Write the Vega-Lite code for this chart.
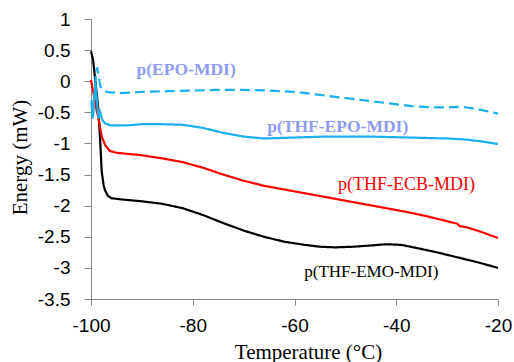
{
  "$schema": "https://vega.github.io/schema/vega-lite/v6.json",
  "width": 407,
  "height": 280,
  "autosize": {"type": "none"},
  "padding": {"left": 91, "top": 19, "right": 16, "bottom": 63},
  "background": "white",
  "config": {"view": {"stroke": null}, "axis": {"labelOverlap": false}},
  "datasets": {
    "curves": [
      {"s": "EMO", "t": -100, "e": 0.48}, {"s": "EMO", "t": -99.6, "e": 0.35}, {"s": "EMO", "t": -99.2, "e": 0.05},
      {"s": "EMO", "t": -98.6, "e": -0.41}, {"s": "EMO", "t": -98.2, "e": -0.95}, {"s": "EMO", "t": -97.9, "e": -1.45},
      {"s": "EMO", "t": -97.5, "e": -1.68}, {"s": "EMO", "t": -97.2, "e": -1.76}, {"s": "EMO", "t": -96.7, "e": -1.84},
      {"s": "EMO", "t": -96, "e": -1.88}, {"s": "EMO", "t": -94, "e": -1.9}, {"s": "EMO", "t": -90, "e": -1.93},
      {"s": "EMO", "t": -86, "e": -1.97}, {"s": "EMO", "t": -82, "e": -2.04}, {"s": "EMO", "t": -78, "e": -2.15},
      {"s": "EMO", "t": -74, "e": -2.28}, {"s": "EMO", "t": -70, "e": -2.4}, {"s": "EMO", "t": -66, "e": -2.5},
      {"s": "EMO", "t": -62, "e": -2.58}, {"s": "EMO", "t": -58, "e": -2.63}, {"s": "EMO", "t": -55, "e": -2.66},
      {"s": "EMO", "t": -52, "e": -2.67}, {"s": "EMO", "t": -48.5, "e": -2.66}, {"s": "EMO", "t": -45, "e": -2.64},
      {"s": "EMO", "t": -42, "e": -2.62}, {"s": "EMO", "t": -39, "e": -2.63}, {"s": "EMO", "t": -36, "e": -2.68},
      {"s": "EMO", "t": -32, "e": -2.75}, {"s": "EMO", "t": -28, "e": -2.83}, {"s": "EMO", "t": -24, "e": -2.91},
      {"s": "EMO", "t": -20, "e": -3.0},

      {"s": "ECB", "t": -100, "e": 0.02}, {"s": "ECB", "t": -99.5, "e": -0.2}, {"s": "ECB", "t": -98.9, "e": -0.46},
      {"s": "ECB", "t": -98.6, "e": -0.57}, {"s": "ECB", "t": -97.9, "e": -0.89}, {"s": "ECB", "t": -97.2, "e": -1.03},
      {"s": "ECB", "t": -96.3, "e": -1.12}, {"s": "ECB", "t": -95, "e": -1.15}, {"s": "ECB", "t": -90, "e": -1.19},
      {"s": "ECB", "t": -86, "e": -1.24}, {"s": "ECB", "t": -82, "e": -1.3}, {"s": "ECB", "t": -78, "e": -1.39},
      {"s": "ECB", "t": -74, "e": -1.5}, {"s": "ECB", "t": -70, "e": -1.6}, {"s": "ECB", "t": -66, "e": -1.68},
      {"s": "ECB", "t": -62, "e": -1.74}, {"s": "ECB", "t": -58, "e": -1.8}, {"s": "ECB", "t": -54, "e": -1.86},
      {"s": "ECB", "t": -50, "e": -1.92}, {"s": "ECB", "t": -46, "e": -1.98}, {"s": "ECB", "t": -42, "e": -2.04},
      {"s": "ECB", "t": -38, "e": -2.1}, {"s": "ECB", "t": -34, "e": -2.17}, {"s": "ECB", "t": -30, "e": -2.25},
      {"s": "ECB", "t": -28, "e": -2.29}, {"s": "ECB", "t": -27.5, "e": -2.33}, {"s": "ECB", "t": -26, "e": -2.35},
      {"s": "ECB", "t": -23, "e": -2.43}, {"s": "ECB", "t": -20, "e": -2.52},

      {"s": "THFEPO", "t": -99.9, "e": -0.35}, {"s": "THFEPO", "t": -99.7, "e": -0.6}, {"s": "THFEPO", "t": -99.4, "e": -0.3},
      {"s": "THFEPO", "t": -99.1, "e": -0.05}, {"s": "THFEPO", "t": -98.8, "e": -0.35}, {"s": "THFEPO", "t": -98.5, "e": -0.6},
      {"s": "THFEPO", "t": -98.2, "e": -0.5}, {"s": "THFEPO", "t": -97.8, "e": -0.62}, {"s": "THFEPO", "t": -97.2, "e": -0.68},
      {"s": "THFEPO", "t": -96, "e": -0.71}, {"s": "THFEPO", "t": -93, "e": -0.71}, {"s": "THFEPO", "t": -90, "e": -0.69},
      {"s": "THFEPO", "t": -86, "e": -0.69}, {"s": "THFEPO", "t": -82, "e": -0.7}, {"s": "THFEPO", "t": -78, "e": -0.75},
      {"s": "THFEPO", "t": -74, "e": -0.83}, {"s": "THFEPO", "t": -70, "e": -0.89}, {"s": "THFEPO", "t": -66, "e": -0.92},
      {"s": "THFEPO", "t": -62, "e": -0.91}, {"s": "THFEPO", "t": -58, "e": -0.9}, {"s": "THFEPO", "t": -54, "e": -0.89},
      {"s": "THFEPO", "t": -50, "e": -0.89}, {"s": "THFEPO", "t": -45, "e": -0.89}, {"s": "THFEPO", "t": -40, "e": -0.9},
      {"s": "THFEPO", "t": -35, "e": -0.91}, {"s": "THFEPO", "t": -30, "e": -0.92}, {"s": "THFEPO", "t": -26, "e": -0.94},
      {"s": "THFEPO", "t": -23, "e": -0.97}, {"s": "THFEPO", "t": -20, "e": -1.01},

      {"s": "EPO", "t": -99.9, "e": -0.3}, {"s": "EPO", "t": -99.6, "e": -0.55}, {"s": "EPO", "t": -99.3, "e": -0.2},
      {"s": "EPO", "t": -99.0, "e": 0.15}, {"s": "EPO", "t": -98.8, "e": 0.22}, {"s": "EPO", "t": -98.5, "e": 0.1},
      {"s": "EPO", "t": -98.2, "e": -0.08}, {"s": "EPO", "t": -97.6, "e": -0.15}, {"s": "EPO", "t": -96.5, "e": -0.18},
      {"s": "EPO", "t": -94, "e": -0.19}, {"s": "EPO", "t": -90, "e": -0.17}, {"s": "EPO", "t": -85, "e": -0.16},
      {"s": "EPO", "t": -80, "e": -0.15}, {"s": "EPO", "t": -75, "e": -0.14}, {"s": "EPO", "t": -70, "e": -0.14},
      {"s": "EPO", "t": -65, "e": -0.15}, {"s": "EPO", "t": -60, "e": -0.17}, {"s": "EPO", "t": -55, "e": -0.22},
      {"s": "EPO", "t": -50, "e": -0.27}, {"s": "EPO", "t": -45, "e": -0.32}, {"s": "EPO", "t": -41, "e": -0.36},
      {"s": "EPO", "t": -37, "e": -0.4}, {"s": "EPO", "t": -33, "e": -0.42}, {"s": "EPO", "t": -30, "e": -0.42},
      {"s": "EPO", "t": -27, "e": -0.41}, {"s": "EPO", "t": -24, "e": -0.45}, {"s": "EPO", "t": -20, "e": -0.52}
    ],
    "labels": [
      {"label": "p(EPO-MDI)", "t": -81.3, "e": 0.18},
      {"label": "p(THF-EPO-MDI)", "t": -51.5, "e": -0.74},
      {"label": "p(THF-ECB-MDI)", "t": -38.0, "e": -1.67},
      {"label": "p(THF-EMO-MDI)", "t": -44.9, "e": -3.07}
    ]
  },
  "layer": [
    {
      "data": {"name": "curves"},
      "mark": {"type": "line", "interpolate": "linear"},
      "encoding": {
        "x": {
          "field": "t", "type": "quantitative",
          "scale": {"domain": [-100, -20], "nice": false, "zero": false},
          "axis": {
            "values": [-100, -80, -60, -40, -20],
            "grid": false,
            "domainColor": "#888888", "tickColor": "#888888", "tickSize": 6,
            "labelFont": "Liberation Sans", "labelFontSize": 19, "labelColor": "#000000",
            "labelPadding": 11, "labelFlush": false, "labelOverlap": false,
            "labelExpr": "replace(format(datum.value, '~g'), '\u2212', '-')",
            "title": "Temperature (°C)",
            "titleFont": "Liberation Serif", "titleFontSize": 21, "titleFontWeight": "normal", "titleColor": "#000000",
            "titleX": 217, "titleY": 59, "titleBaseline": "alphabetic", "titleAlign": "center"
          }
        },
        "y": {
          "field": "e", "type": "quantitative",
          "scale": {"domain": [-3.5, 1], "nice": false, "zero": false},
          "axis": {
            "tickCount": 10,
            "grid": false,
            "domainColor": "#888888", "tickColor": "#888888", "tickSize": 7,
            "labelFont": "Liberation Sans", "labelFontSize": 19, "labelColor": "#000000",
            "labelPadding": 14, "labelFlush": false, "labelOverlap": false,
            "labelExpr": "datum.value < 0 ? '-' + format(-datum.value, '~g') : format(datum.value, '~g')",
            "title": "Energy (mW)",
            "titleFont": "Liberation Serif", "titleFontSize": 21, "titleFontWeight": "normal", "titleColor": "#000000",
            "titleX": -71, "titleY": 138, "titleAngle": -90, "titleBaseline": "middle", "titleAlign": "center"
          }
        },
        "color": {
          "field": "s", "type": "nominal",
          "scale": {"domain": ["EMO", "ECB", "THFEPO", "EPO"], "range": ["#000000", "#FF0000", "#18B0EE", "#18B0EE"]},
          "legend": null
        },
        "strokeDash": {
          "field": "s", "type": "nominal",
          "scale": {"domain": ["EMO", "ECB", "THFEPO", "EPO"], "range": [[1, 0], [1, 0], [1, 0], [10, 5]]},
          "legend": null
        },
        "strokeWidth": {
          "field": "s", "type": "nominal",
          "scale": {"domain": ["EMO", "ECB", "THFEPO", "EPO"], "range": [2.2, 2.2, 2, 3.5]},
          "legend": null
        },
        "detail": {"field": "s"}
      }
    },
    {
      "data": {"name": "labels"},
      "transform": [{"filter": "datum.label == 'p(EPO-MDI)' || datum.label == 'p(THF-EPO-MDI)'"}],
      "mark": {"type": "text", "font": "Liberation Serif", "fontSize": 17.5, "fontWeight": "bold", "color": "#8E9BF0", "align": "center", "baseline": "middle"},
      "encoding": {
        "x": {"field": "t", "type": "quantitative"},
        "y": {"field": "e", "type": "quantitative"},
        "text": {"field": "label"}
      }
    },
    {
      "data": {"name": "labels"},
      "transform": [{"filter": "datum.label == 'p(THF-ECB-MDI)'"}],
      "mark": {"type": "text", "font": "Liberation Serif", "fontSize": 18, "color": "#FF0000", "align": "center", "baseline": "middle"},
      "encoding": {
        "x": {"field": "t", "type": "quantitative"},
        "y": {"field": "e", "type": "quantitative"},
        "text": {"field": "label"}
      }
    },
    {
      "data": {"name": "labels"},
      "transform": [{"filter": "datum.label == 'p(THF-EMO-MDI)'"}],
      "mark": {"type": "text", "font": "Liberation Serif", "fontSize": 17, "color": "#000000", "align": "center", "baseline": "middle"},
      "encoding": {
        "x": {"field": "t", "type": "quantitative"},
        "y": {"field": "e", "type": "quantitative"},
        "text": {"field": "label"}
      }
    }
  ]
}
